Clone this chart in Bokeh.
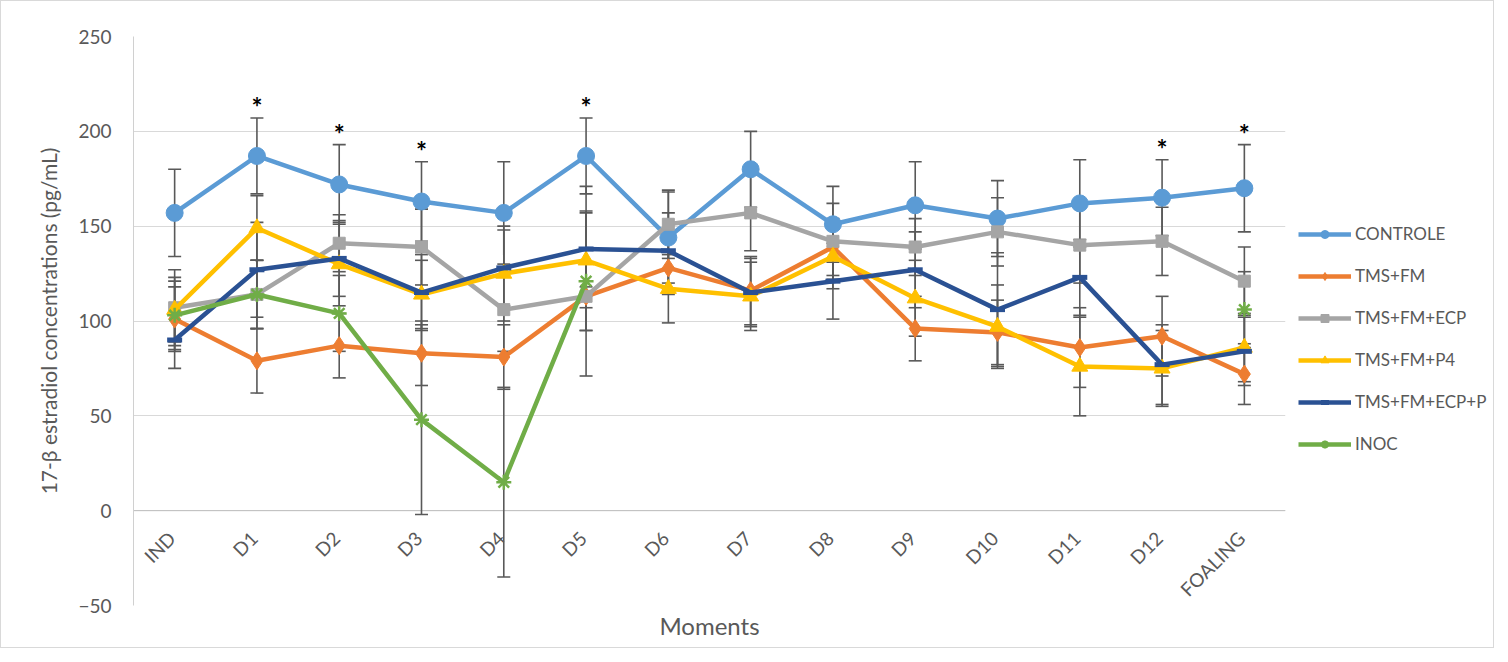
import math
import numpy as np
from bokeh.plotting import figure
from bokeh.layouts import row
from bokeh.models import (FactorRange, Range1d, Whisker, TeeHead, ColumnDataSource,
                          Legend, LegendItem, Span, Title, FixedTicker)
from bokeh.core.properties import value
from bokeh.embed import file_html
from bokeh.resources import INLINE

# ---------------- data ----------------
moments = ["IND", "D1", "D2", "D3", "D4", "D5", "D6", "D7", "D8", "D9", "D10", "D11", "D12", "FOALING"]

controle = [157, 187, 172, 163, 157, 187, 144, 180, 151, 161, 154, 162, 165, 170]
controle_err = [23, 20, 21, 21, 27, 20, 24, 20, 20, 23, 20, 23, 20, 23]

tms_fm = [101, 79, 87, 83, 81, 113, 128, 116, 139, 96, 94, 86, 92, 72]
tms_fm_err = [17, 17, 17, 17, 17, 18, 14, 18, 15, 17, 17, 21, 21, 16]

tms_fm_ecp = [107, 114, 141, 139, 106, 113, 151, 157, 142, 139, 147, 140, 142, 121]
tms_fm_ecp_err = [20, 18, 15, 20, 22, 18, 18, 20, 20, 15, 18, 20, 18, 18]

tms_fm_p4 = [106, 149, 130, 114, 125, 132, 117, 113, 134, 112, 97, 76, 75, 86]
tms_fm_p4_err = [17, 17, 22, 18, 25, 25, 18, 18, 17, 20, 22, 26, 20, 18]

tms_fm_ecp_p = [90, 127, 133, 115, 128, 138, 137, 115, 121, 127, 106, 123, 77, 84]
tms_fm_ecp_p_err = [15, 25, 20, 20, 20, 20, 20, 18, 20, 20, 30, 20, 21, 18]

nan = float("nan")
inoc = [103, 114, 104, 48, 15, 121, nan, nan, nan, nan, nan, nan, nan, 106]
inoc_err = [18, 18, 20, 50, 50, 50, nan, nan, nan, nan, nan, nan, nan, 20]

significant = ["D1", "D2", "D3", "D5", "D12", "FOALING"]

y_ticks = [-50, 0, 50, 100, 150, 200, 250]

FONT = "Lato"
TXT = "#595959"

TOTAL_W = 1492
TOTAL_H = 646
LEFT = 132
FRAME_W = 1152
MAIN_W = LEFT + FRAME_W + 1
LEG_W = TOTAL_W - MAIN_W

# ---------------- main figure ----------------
p = figure(x_range=FactorRange(factors=moments), y_range=Range1d(-50, 250),
           width=MAIN_W, height=TOTAL_H, output_backend="svg", toolbar_location=None,
           min_border_left=LEFT, min_border_right=1,
           min_border_top=35, min_border_bottom=42)
p.outline_line_color = None
p.background_fill_color = "white"
p.border_fill_color = "white"

p.xaxis.visible = False
p.xgrid.visible = False
p.ygrid.ticker = FixedTicker(ticks=y_ticks)
p.ygrid.grid_line_color = "#d9d9d9"
p.ygrid.grid_line_width = 1

ax = p.yaxis[0]
ax.ticker = FixedTicker(ticks=y_ticks)
ax.axis_line_color = "#d0d0d0"
ax.major_tick_line_color = None
ax.minor_tick_line_color = None
ax.major_tick_out = 0
ax.major_label_standoff = 22
ax.major_label_text_font = FONT
ax.major_label_text_font_size = "19px"
ax.major_label_text_color = TXT
ax.axis_label = "17-β estradiol concentrations (pg/mL)"
ax.axis_label_text_font = FONT
ax.axis_label_text_font_size = "21px"
ax.axis_label_text_font_style = "normal"
ax.axis_label_text_color = TXT
ax.axis_label_standoff = 14

# horizontal axis line at 0
p.add_layout(Span(location=0, dimension="width", line_color="#bfbfbf", line_width=1, level="underlay"))

# category labels (rotated) at the axis crossing 0
p.text(x=moments, y=[0] * len(moments), text=moments, angle=math.pi / 4,
       text_align="right", text_baseline="middle", x_offset=-3, y_offset=24,
       text_font=value(FONT), text_font_size="19px", text_color=TXT)

# x axis title
p.add_layout(Title(text="Moments", align="center", text_font=FONT, text_font_size="24px",
                   text_font_style="normal", text_color=TXT, standoff=6), "below")

series = [
    ("CONTROLE", controle, controle_err, "#5B9BD5", "circle", 17),
    ("TMS+FM", tms_fm, tms_fm_err, "#ED7D31", "diamond", 18),
    ("TMS+FM+ECP", tms_fm_ecp, tms_fm_ecp_err, "#A5A5A5", "square", 12),
    ("TMS+FM+P4", tms_fm_p4, tms_fm_p4_err, "#FFC000", "triangle", 16),
    ("TMS+FM+ECP+P", tms_fm_ecp_p, tms_fm_ecp_p_err, "#2A5193", "dash", 15),
    ("INOC", inoc, inoc_err, "#70AD47", "asterisk", 15),
]

# error bars
for name, vals, errs, col, mk, sz in series:
    xs, up, lo = [], [], []
    for c, v, e in zip(moments, vals, errs):
        if not (math.isnan(v) or math.isnan(e)):
            xs.append(c); up.append(v + e); lo.append(v - e)
    src = ColumnDataSource(dict(x=xs, upper=up, lower=lo))
    w = Whisker(source=src, base="x", upper="upper", lower="lower", dimension="height",
                line_color="#595959", line_width=1.6, level="underlay",
                upper_head=TeeHead(size=13, line_color="#595959", line_width=1.6),
                lower_head=TeeHead(size=13, line_color="#595959", line_width=1.6))
    p.add_layout(w)


def draw(fig, src, col, mk, sz):
    lr = fig.line("x", "y", source=src, line_color=col, line_width=4.5)
    if mk == "dash":
        sr = fig.scatter("x", "y", source=src, marker="dash", size=sz, line_color=col, line_width=5)
    elif mk == "asterisk":
        sr = fig.scatter("x", "y", source=src, marker="asterisk", size=sz, line_color=col, line_width=2.5)
    else:
        sr = fig.scatter("x", "y", source=src, marker=mk, size=sz, fill_color=col, line_color=col)
    return lr, sr


for name, vals, errs, col, mk, sz in series:
    draw(p, ColumnDataSource(dict(x=moments, y=vals)), col, mk, sz)

# significance marks
star_x, star_y = [], []
for c, v, e in zip(moments, controle, controle_err):
    if c in significant:
        star_x.append(c); star_y.append(v + e + 10)
p.text(x=star_x, y=star_y, text=["*"] * len(star_x), text_align="center", text_baseline="middle",
       text_font=value(FONT), text_font_size="26px", text_font_style="bold",
       text_color="black", y_offset=8)

# ---------------- legend figure ----------------
pl = figure(width=LEG_W, height=TOTAL_H, x_range=Range1d(0, 1), y_range=Range1d(0, 1),
            x_axis_location=None, y_axis_location=None, min_border=0,
            output_backend="svg", toolbar_location=None)
pl.outline_line_color = None
pl.grid.visible = False
pl.background_fill_color = "white"
pl.border_fill_color = "white"

items = []
for name, vals, errs, col, mk, sz in series:
    # one hidden (NaN) point so that the legend swatches get their styles
    lr, sr = draw(pl, ColumnDataSource(dict(x=[nan], y=[nan])), col, mk, sz)
    items.append(LegendItem(label=name, renderers=[lr, sr]))

legend = Legend(items=items, location=(12, 151), orientation="vertical",
                glyph_width=53, glyph_height=20, label_height=20, spacing=21,
                padding=0, margin=0, border_line_color=None, background_fill_alpha=0,
                label_text_font=FONT, label_text_font_size="17px", label_text_color=TXT,
                label_standoff=4)
pl.add_layout(legend)

layout = row(p, pl, styles={"border": "1px solid #d9d9d9"})

open("out.html", "w").write(file_html(layout, INLINE))
